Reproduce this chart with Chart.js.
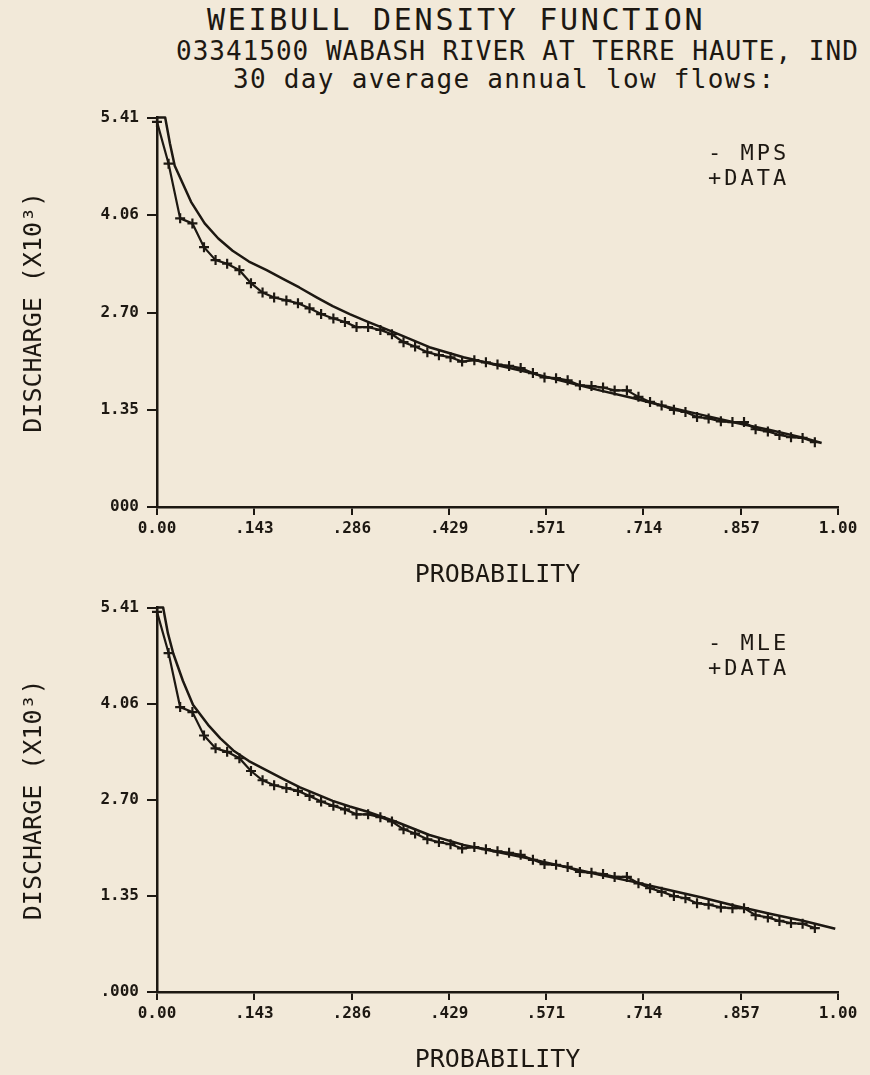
<!DOCTYPE html>
<html>
<head>
<meta charset="utf-8">
<script src="https://cdn.jsdelivr.net/npm/chart.js@4.4.0/dist/chart.umd.min.js"></script>
<style>
  body { margin: 0; background: #f2e9d9; width: 870px; height: 1075px; overflow: hidden; position: relative;
         font-family: 'DejaVu Sans Mono', monospace; color: #1d1812; }
  .hdr { position: absolute; white-space: pre; line-height: 1; }
  #title { left: 207px; top: 5px; font-size: 30px; letter-spacing: 2.7px; }
  #sub1 { left: 176px; top: 38px; font-size: 26px; letter-spacing: 1px; }
  #sub2 { left: 233px; top: 66px; font-size: 26px; letter-spacing: 1.3px; }
  canvas { position: absolute; left: 0; }
  #topChart { top: 100px; }
  #bottomChart { top: 590px; }
</style>
</head>
<body>
<div class="hdr" id="title">WEIBULL DENSITY FUNCTION</div>
<div class="hdr" id="sub1">03341500 WABASH RIVER AT TERRE HAUTE, IND</div>
<div class="hdr" id="sub2">30 day average annual low flows:</div>
<canvas id="topChart" width="870" height="490"></canvas>
<canvas id="bottomChart" width="870" height="485"></canvas>
<script>
// Observed 30-day low flows (x1000) at their plotting positions
const dataProb = [0.000, 0.017, 0.034, 0.052, 0.069, 0.086, 0.103, 0.121, 0.138, 0.155,
                  0.172, 0.190, 0.207, 0.224, 0.241, 0.259, 0.276, 0.293, 0.310, 0.328,
                  0.345, 0.362, 0.379, 0.397, 0.414, 0.431, 0.448, 0.466, 0.483, 0.500,
                  0.517, 0.534, 0.552, 0.569, 0.586, 0.603, 0.621, 0.638, 0.655, 0.672,
                  0.690, 0.707, 0.724, 0.741, 0.759, 0.776, 0.793, 0.810, 0.828, 0.845,
                  0.862, 0.879, 0.897, 0.914, 0.931, 0.948, 0.966];
const dataFlow = [5.35, 4.77, 4.01, 3.94, 3.61, 3.43, 3.38, 3.29, 3.11, 2.98,
                  2.91, 2.87, 2.83, 2.76, 2.68, 2.62, 2.57, 2.50, 2.50, 2.46,
                  2.40, 2.29, 2.23, 2.15, 2.11, 2.08, 2.02, 2.04, 2.01, 1.98,
                  1.96, 1.93, 1.86, 1.80, 1.79, 1.76, 1.69, 1.68, 1.66, 1.62,
                  1.62, 1.53, 1.46, 1.41, 1.35, 1.32, 1.25, 1.23, 1.19, 1.18,
                  1.18, 1.08, 1.05, 1.00, 0.97, 0.96, 0.90];

// Fitted curves (clipped flat at the top of the plot, as the plotter drew them)
const mpsProb = [0.000, 0.012, 0.019, 0.026, 0.038, 0.050, 0.070, 0.090, 0.111, 0.135, 0.161, 0.185,
                 0.209, 0.235, 0.258, 0.283, 0.308, 0.350, 0.400, 0.450, 0.500, 0.550, 0.600, 0.650,
                 0.700, 0.750, 0.800, 0.850, 0.900, 0.950, 0.976];
const mpsFlow = [5.41, 5.41, 5.05, 4.74, 4.49, 4.24, 3.94, 3.73, 3.56, 3.41, 3.29, 3.17,
                 3.05, 2.91, 2.79, 2.68, 2.58, 2.42, 2.22, 2.08, 1.97, 1.86, 1.74, 1.62,
                 1.51, 1.39, 1.28, 1.17, 1.07, 0.96, 0.89];
const mleProb = [0.000, 0.009, 0.016, 0.024, 0.038, 0.053, 0.075, 0.093, 0.112, 0.135, 0.161, 0.185,
                 0.210, 0.235, 0.258, 0.283, 0.308, 0.350, 0.400, 0.450, 0.500, 0.550, 0.600, 0.650,
                 0.700, 0.750, 0.800, 0.850, 0.900, 0.950, 0.996];
const mleFlow = [5.41, 5.41, 5.05, 4.76, 4.38, 4.04, 3.76, 3.57, 3.40, 3.25, 3.12, 3.00,
                 2.88, 2.78, 2.69, 2.61, 2.54, 2.40, 2.21, 2.07, 1.97, 1.87, 1.76, 1.65,
                 1.55, 1.44, 1.33, 1.21, 1.10, 1.00, 0.89];

// Axis ticks
const xTickValues = [0, 0.143, 0.286, 0.429, 0.571, 0.714, 0.857, 1.0];
const xTickLabels = ['0.00', '.143', '.286', '.429', '.571', '.714', '.857', '1.00'];
const yTickValues = [0, 1.35, 2.70, 4.06, 5.41];
const yTickLabelsTop = ['000', '1.35', '2.70', '4.06', '5.41'];
const yTickLabelsBottom = ['.000', '1.35', '2.70', '4.06', '5.41'];

const ink = '#1d1812';
const mono = "'DejaVu Sans Mono', monospace";

// Legend drawn as plotter text in the upper right of the plot area
const legendText = {
    id: 'legendText',
    afterDraw(chart, args, opts) {
        const { ctx, chartArea } = chart;
        ctx.save();
        ctx.font = '22px ' + mono;
        ctx.letterSpacing = '3px';
        ctx.fillStyle = ink;
        ctx.textBaseline = 'middle';
        opts.lines.forEach((t, i) => {
            ctx.fillText(t, chartArea.right - 130, chartArea.top + 37 + i * 25);
        });
        ctx.restore();
    }
};

function toPoints(xs, ys) {
    return xs.map((x, i) => ({ x: x, y: ys[i] }));
}

function makeChart(id, fitProb, fitFlow, fitName, yLabels, padTop) {
    new Chart(document.getElementById(id), {
        type: 'scatter',
        data: {
            datasets: [{
                label: fitName,
                data: toPoints(fitProb, fitFlow),
                showLine: true,
                borderColor: ink,
                borderWidth: 2.5,
                pointRadius: 0,
                tension: 0,
                borderJoinStyle: 'round',
                clip: 6
            }, {
                label: 'DATA',
                data: toPoints(dataProb, dataFlow),
                showLine: true,
                borderColor: ink,
                borderWidth: 2.2,
                pointStyle: 'cross',
                pointRadius: 5,
                pointBorderWidth: 2.2,
                pointBorderColor: ink,
                tension: 0,
                clip: 8
            }]
        },
        options: {
            responsive: false,
            animation: false,
            devicePixelRatio: 1,
            layout: { padding: { top: padTop, right: 32, left: 0, bottom: 0 } },
            plugins: {
                legend: { display: false },
                tooltip: { enabled: false },
                legendText: { lines: [ '- ' + fitName, '+DATA' ] }
            },
            scales: {
                x: {
                    type: 'linear',
                    min: 0,
                    max: 1,
                    afterBuildTicks: scale => { scale.ticks = xTickValues.map(v => ({ value: v })); },
                    afterFit: scale => { scale.height = 83; },
                    grid: { drawOnChartArea: false, drawTicks: true, tickLength: 8, color: ink, lineWidth: 2 },
                    border: { color: ink, width: 2.5 },
                    ticks: {
                        color: ink,
                        padding: 4,
                        maxRotation: 0,
                        font: { family: mono, size: 16, weight: 'bold' },
                        callback: (v, i) => xTickLabels[i]
                    },
                    title: {
                        display: true,
                        text: 'PROBABILITY',
                        color: ink,
                        padding: { top: 0, bottom: 0 },
                        font: { family: mono, size: 25 }
                    }
                },
                y: {
                    type: 'linear',
                    min: 0,
                    max: 5.41,
                    afterBuildTicks: scale => { scale.ticks = yTickValues.map(v => ({ value: v })); },
                    afterFit: scale => { scale.width = 157; },
                    grid: { drawOnChartArea: false, drawTicks: true, tickLength: 10, color: ink, lineWidth: 2 },
                    border: { color: ink, width: 2.5 },
                    ticks: {
                        color: ink,
                        padding: 8,
                        font: { family: mono, size: 16, weight: 'bold' },
                        callback: (v, i) => yLabels[i]
                    },
                    title: {
                        display: true,
                        text: 'DISCHARGE (X10³)',
                        color: ink,
                        padding: { top: 19, bottom: 0 },
                        font: { family: mono, size: 25 }
                    }
                }
            }
        },
        plugins: [legendText]
    });
}

makeChart('topChart', mpsProb, mpsFlow, 'MPS', yTickLabelsTop, 17);
makeChart('bottomChart', mleProb, mleFlow, 'MLE', yTickLabelsBottom, 13);
</script>
</body>
</html>
